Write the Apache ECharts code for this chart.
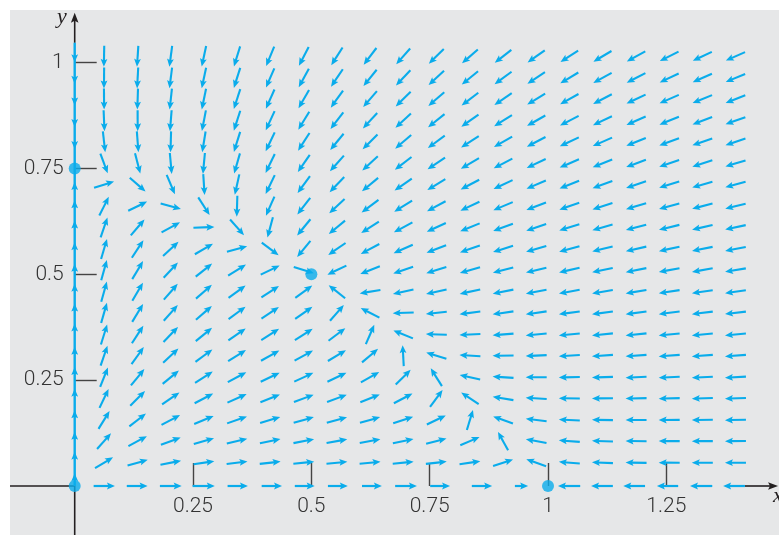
<!DOCTYPE html>
<html>
<head>
<meta charset="utf-8">
<script src="https://cdn.jsdelivr.net/npm/echarts@6/dist/echarts.min.js"></script>
<style>html,body{margin:0;padding:0;background:#fff}#c{width:779px;height:535px}</style>
</head>
<body>
<div id="c"></div>
<script>
// ---- data ----
// competing-species system implied by the figure's equilibria (0,0),(1,0),(0,0.75),(0.5,0.5):
// dx/dt = x (a0 - a1 x - a2 y),  dy/dt = y (b0 - b1 y - b2 x)
const xRateCoef = [1, 1, 1];
const yRateCoef = [0.75, 1, 0.5];
// equilibrium points (dots)
const eqX = [0, 1, 0, 0.5];
const eqY = [0, 0, 0.75, 0.5];
// direction-field sample columns and rows (arrow centres)
const fieldCols = [0.062, 0.133, 0.203, 0.273, 0.343, 0.413, 0.484, 0.554, 0.624, 0.694,
                   0.764, 0.835, 0.905, 0.975, 1.045, 1.115, 1.186, 1.256, 1.326, 1.396];
const fieldRows = [0.055, 0.106, 0.156, 0.207, 0.257, 0.308, 0.358, 0.409, 0.459, 0.510,
                   0.560, 0.611, 0.661, 0.712, 0.762, 0.813, 0.863, 0.914, 0.964, 1.015];
// arrows drawn on the x axis (tail, head)
const xAxisArrowTails = [0.040, 0.110, 0.180, 0.249, 0.323, 0.395, 0.465, 0.535, 0.607, 0.677, 0.751, 0.839, 0.930,
                         1.068, 1.137, 1.205, 1.275, 1.347, 1.416];
const xAxisArrowHeads = [0.085, 0.154, 0.226, 0.296, 0.366, 0.438, 0.507, 0.577, 0.649, 0.723, 0.793, 0.882, 0.958,
                         1.021, 1.091, 1.159, 1.230, 1.300, 1.370];
// arrowheads on the y axis trajectory
const yAxisUpHeads = [0.030, 0.081, 0.128, 0.179, 0.230, 0.281, 0.329, 0.384, 0.431, 0.478, 0.525, 0.576, 0.627, 0.675, 0.718];
const yAxisDownHeads = [1.001, 0.950, 0.899, 0.848, 0.796];
const yAxisTrajTop = 1.047;
// tick labels
const xTicks = [0.25, 0.5, 0.75, 1, 1.25];
const yTicks = [0.25, 0.5, 0.75, 1];
// axis ranges (visible axis lines reach into negative values)
const xMin = 0, xMax = 1.488, yMin = 0, yMax = 1.1245;
const xLineStart = -0.1367, yLineStart = -0.1158;
const xArrowTip = 1.486, yArrowTip = 1.118;

// ---- drawing ----
const CYAN = '#0aaceb';
const BLACK = '#231f20';
const TXT = '#333333';

function arrowGroup(x0, y0, x1, y1, color, lw, hl, hw, withLine) {
  const len = Math.hypot(x1 - x0, y1 - y0) || 1;
  const ux = (x1 - x0) / len, uy = (y1 - y0) / len;
  const nx = -uy, ny = ux;
  const bx = x1 - ux * hl, by = y1 - uy * hl;
  const kids = [];
  if (withLine) {
    kids.push({type: 'line', shape: {x1: x0, y1: y0, x2: x1 - ux * hl * 0.6, y2: y1 - uy * hl * 0.6},
      style: {stroke: color, lineWidth: lw, lineCap: 'butt'}});
  }
  kids.push({type: 'polygon', shape: {points: [[x1, y1], [bx + nx * hw, by + ny * hw],
      [x1 - ux * hl * 0.8, y1 - uy * hl * 0.8], [bx - nx * hw, by - ny * hw]]},
    style: {fill: color}});
  return {type: 'group', children: kids};
}

const fieldData = [];
fieldCols.forEach(x => fieldRows.forEach(y => fieldData.push([x, y])));

const xAxisArrowData = xAxisArrowTails.map((t, i) => [t, xAxisArrowHeads[i]]);
const yAxisHeadData = yAxisUpHeads.map(y => [y, 1]).concat(yAxisDownHeads.map(y => [y, -1]));

const chart = echarts.init(document.getElementById('c'), null, {renderer: 'canvas'});
chart.setOption({
  animation: false,
  backgroundColor: '#ffffff',
  grid: {left: 74.7, top: 10, right: 0, bottom: 49, show: false, containLabel: false},
  xAxis: {
    type: 'value', min: xMin, max: xMax,
    axisLine: {show: false, onZero: false},
    splitLine: {show: false},
    axisTick: {show: true, inside: true, length: 23, customValues: xTicks, lineStyle: {color: '#444', width: 1.4}},
    axisLabel: {show: true, customValues: xTicks, margin: 10, color: TXT, fontSize: 21,
      fontFamily: 'Roboto', fontWeight: 300, formatter: v => String(v)}
  },
  yAxis: {
    type: 'value', min: yMin, max: yMax,
    axisLine: {show: false, onZero: false},
    splitLine: {show: false},
    axisTick: {show: true, inside: true, length: 22, customValues: yTicks, lineStyle: {color: '#444', width: 1.4}},
    axisLabel: {show: true, customValues: yTicks, margin: 11, color: TXT, fontSize: 21,
      fontFamily: 'Roboto', fontWeight: 300, formatter: v => String(v)}
  },
  graphic: [
    {type: 'rect', z: -100, silent: true, shape: {x: 10, y: 10, width: 769, height: 525}, style: {fill: '#e6e7e8'}},
    {type: 'text', left: 57, top: 6, z: 100,
      style: {text: 'y', font: 'italic 22px "Liberation Serif"', fill: BLACK}},
    {type: 'text', left: 773, top: 485, z: 100,
      style: {text: 'x', font: 'italic 22px "Liberation Serif"', fill: BLACK}}
  ],
  series: [
    { // black axis pieces outside the cyan trajectories
      type: 'custom', silent: true, z: 1, clip: false,
      data: [[0]],
      renderItem: (params, api) => {
        const o = api.coord([0, 0]);
        const bl = api.coord([xLineStart, 0]);
        const r0 = api.coord([xAxisArrowTails[xAxisArrowTails.length - 1], 0]);
        const rt = api.coord([xArrowTip, 0]);
        const bb = api.coord([0, yLineStart]);
        const t0 = api.coord([0, yAxisTrajTop]);
        const tt = api.coord([0, yArrowTip]);
        const st = {stroke: BLACK, lineWidth: 1.6};
        return {type: 'group', children: [
          {type: 'line', shape: {x1: bl[0], y1: bl[1], x2: o[0], y2: o[1]}, style: st},
          {type: 'line', shape: {x1: o[0], y1: o[1], x2: bb[0], y2: bb[1]}, style: st},
          {type: 'line', shape: {x1: r0[0], y1: r0[1], x2: rt[0] - 6, y2: rt[1]}, style: st},
          {type: 'line', shape: {x1: t0[0], y1: t0[1], x2: tt[0], y2: tt[1] + 6}, style: st},
          arrowGroup(r0[0], r0[1], rt[0], rt[1], BLACK, 1.6, 10, 3.8, false),
          arrowGroup(t0[0], t0[1], tt[0], tt[1], BLACK, 1.6, 10, 3.8, false)
        ]};
      }
    },
    { // direction field
      type: 'custom', silent: true, z: 3, clip: false,
      data: fieldData,
      renderItem: (params, api) => {
        const x = api.value(0), y = api.value(1);
        const u = x * (xRateCoef[0] - xRateCoef[1] * x - xRateCoef[2] * y);
        const v = y * (yRateCoef[0] - yRateCoef[1] * y - yRateCoef[2] * x);
        const c = api.coord([x, y]);
        const s = api.size([1, 1]);
        let dx = u * s[0], dy = -v * s[1];
        const n = Math.hypot(dx, dy);
        if (n === 0) return null;
        dx /= n; dy /= n;
        const L = 21;
        return arrowGroup(c[0] - dx * L / 2, c[1] - dy * L / 2, c[0] + dx * L / 2, c[1] + dy * L / 2, CYAN, 2.1, 8, 3.4, true);
      }
    },
    { // arrows on the x axis
      type: 'custom', silent: true, z: 3, clip: false,
      data: xAxisArrowData,
      renderItem: (params, api) => {
        const a = api.coord([api.value(0), 0]);
        const b = api.coord([api.value(1), 0]);
        return arrowGroup(a[0], a[1], b[0], b[1], CYAN, 2.2, 8, 3.4, true);
      }
    },
    { // y axis trajectory line
      type: 'custom', silent: true, z: 3, clip: false,
      data: [[yAxisTrajTop]],
      renderItem: (params, api) => {
        const a = api.coord([0, 0]);
        const b = api.coord([0, api.value(0)]);
        return {type: 'line', shape: {x1: a[0], y1: a[1], x2: b[0], y2: b[1]}, style: {stroke: CYAN, lineWidth: 2.4}};
      }
    },
    { // arrowheads on the y axis
      type: 'custom', silent: true, z: 4, clip: false,
      data: yAxisHeadData,
      renderItem: (params, api) => {
        const y = api.value(0), d = api.value(1);
        const h = api.coord([0, y]);
        return arrowGroup(h[0], h[1] + d * 8, h[0], h[1], CYAN, 2, 8, 3.4, false);
      }
    },
    { // equilibrium points
      type: 'scatter', silent: true, z: 5, clip: false,
      symbol: 'circle', symbolSize: 12,
      itemStyle: {color: CYAN},
      data: eqX.map((x, i) => [x, eqY[i]])
    }
  ]
});
</script>
</body>
</html>
